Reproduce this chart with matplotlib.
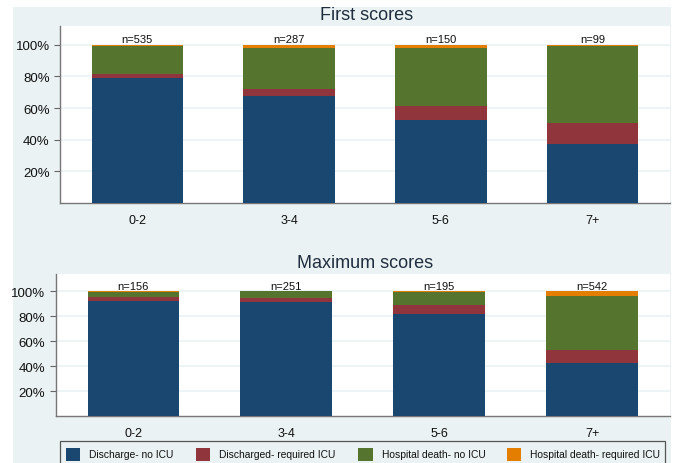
import matplotlib
matplotlib.use("Agg")
import matplotlib.pyplot as plt
from matplotlib.patches import Rectangle
import numpy as np

# ---- data ----
categories = ["0-2", "3-4", "5-6", "7+"]
series_names = ["Discharge- no ICU", "Discharged- required ICU",
                "Hospital death- no ICU", "Hospital death- required ICU"]

first_n = [535, 287, 150, 99]
first_discharge_no_icu = [79.0, 67.8, 52.6, 37.4]
first_discharged_icu = [2.3, 4.0, 8.7, 13.1]
first_death_no_icu = [17.7, 26.1, 36.6, 48.5]
first_death_icu = [1.0, 2.1, 2.1, 1.0]

max_n = [156, 251, 195, 542]
max_discharge_no_icu = [92.5, 91.4, 82.0, 42.9]
max_discharged_icu = [2.6, 3.2, 7.2, 9.9]
max_death_no_icu = [4.2, 5.4, 10.2, 43.4]
max_death_icu = [0.7, 0.0, 0.6, 3.8]

ytick_vals = [20, 40, 60, 80, 100]
ytick_labels = ["20%", "40%", "60%", "80%", "100%"]

# ---- style ----
colors = ["#1a476f", "#90353b", "#55752f", "#e37e00"]
bg = "#eaf2f3"
font = ["Liberation Sans", "DejaVu Sans"]
plt.rcParams["font.family"] = font

W, H = 675, 464
fig = plt.figure(figsize=(W / 100, H / 100), dpi=100)
fig.patch.set_facecolor("white")

# graph region background
fig.patches.append(Rectangle((13 / W, 0), (671 - 13) / W, (H - 8) / H,
                             transform=fig.transFigure, facecolor=bg,
                             edgecolor="none", zorder=-10))


def px_rect(x0, y0, x1, y1):
    return [x0 / W, (H - y1) / H, (x1 - x0) / W, (y1 - y0) / H]


def draw_panel(ax, title, ntot, stacks, ytop, title_y):
    x = np.arange(len(categories))
    bottom = np.zeros(len(categories))
    for vals, c in zip(stacks, colors):
        ax.bar(x, vals, width=0.6, bottom=bottom, color=c,
               edgecolor="none", zorder=3)
        bottom = bottom + np.array(vals)
    for xi, n in zip(x, ntot):
        ax.text(xi, 100.3, f"n={n}", ha="center", va="bottom",
                fontsize=8, color="#111111", zorder=4)
    ax.set_xlim(-0.508, 3.508)
    ax.set_ylim(0, ytop)
    ax.set_xticks(x)
    ax.set_xticklabels(categories, fontsize=9, color="#111111")
    ax.set_yticks(ytick_vals)
    ax.set_yticklabels(ytick_labels, fontsize=9.5, color="#111111")
    ax.tick_params(axis="x", length=0, pad=8)
    ax.tick_params(axis="y", length=4.5, width=0.8, color="#666666", pad=3)
    ax.grid(axis="y", color=bg, linewidth=1.2, zorder=1)
    ax.set_axisbelow(True)
    for s in ["top", "right"]:
        ax.spines[s].set_visible(False)
    for s in ["left", "bottom"]:
        ax.spines[s].set_color("#777777")
        ax.spines[s].set_linewidth(1.0)
    ax.set_facecolor("white")
    pos = ax.get_position()
    fig.text((pos.x0 + pos.x1) / 2 + 2 / W, title_y, title, ha="center",
             va="center", fontsize=13, color="#1f2d3d")


ax1 = fig.add_axes(px_rect(60, 27, 670, 204))
draw_panel(ax1, "First scores", first_n,
           [first_discharge_no_icu, first_discharged_icu,
            first_death_no_icu, first_death_icu], 111.8, 1 - 15 / H)

ax2 = fig.add_axes(px_rect(55.7, 275, 670, 417.3))
draw_panel(ax2, "Maximum scores", max_n,
           [max_discharge_no_icu, max_discharged_icu,
            max_death_no_icu, max_death_icu], 113.8, 1 - 263 / H)

# ---- legend (drawn manually to match layout) ----
fig.patches.append(Rectangle((60 / W, -0.05), (665 - 60) / W,
                             (H - 441.7) / H + 0.05,
                             transform=fig.transFigure, facecolor=bg,
                             edgecolor="#555555", linewidth=0.9, zorder=1))
leg_x = [65.7, 195.7, 358.3, 506.7]
for lx, name, c in zip(leg_x, series_names, colors):
    fig.patches.append(Rectangle((lx / W, (H - 461.7) / H), 14.3 / W, 13 / H,
                                 transform=fig.transFigure, facecolor=c,
                                 edgecolor="none", zorder=2))
    fig.text((lx + 23.5) / W, (H - 455.5) / H, name, ha="left", va="center",
             fontsize=7.4, color="#111111", zorder=3)

fig.savefig("out.png", dpi=100, facecolor=fig.get_facecolor())
